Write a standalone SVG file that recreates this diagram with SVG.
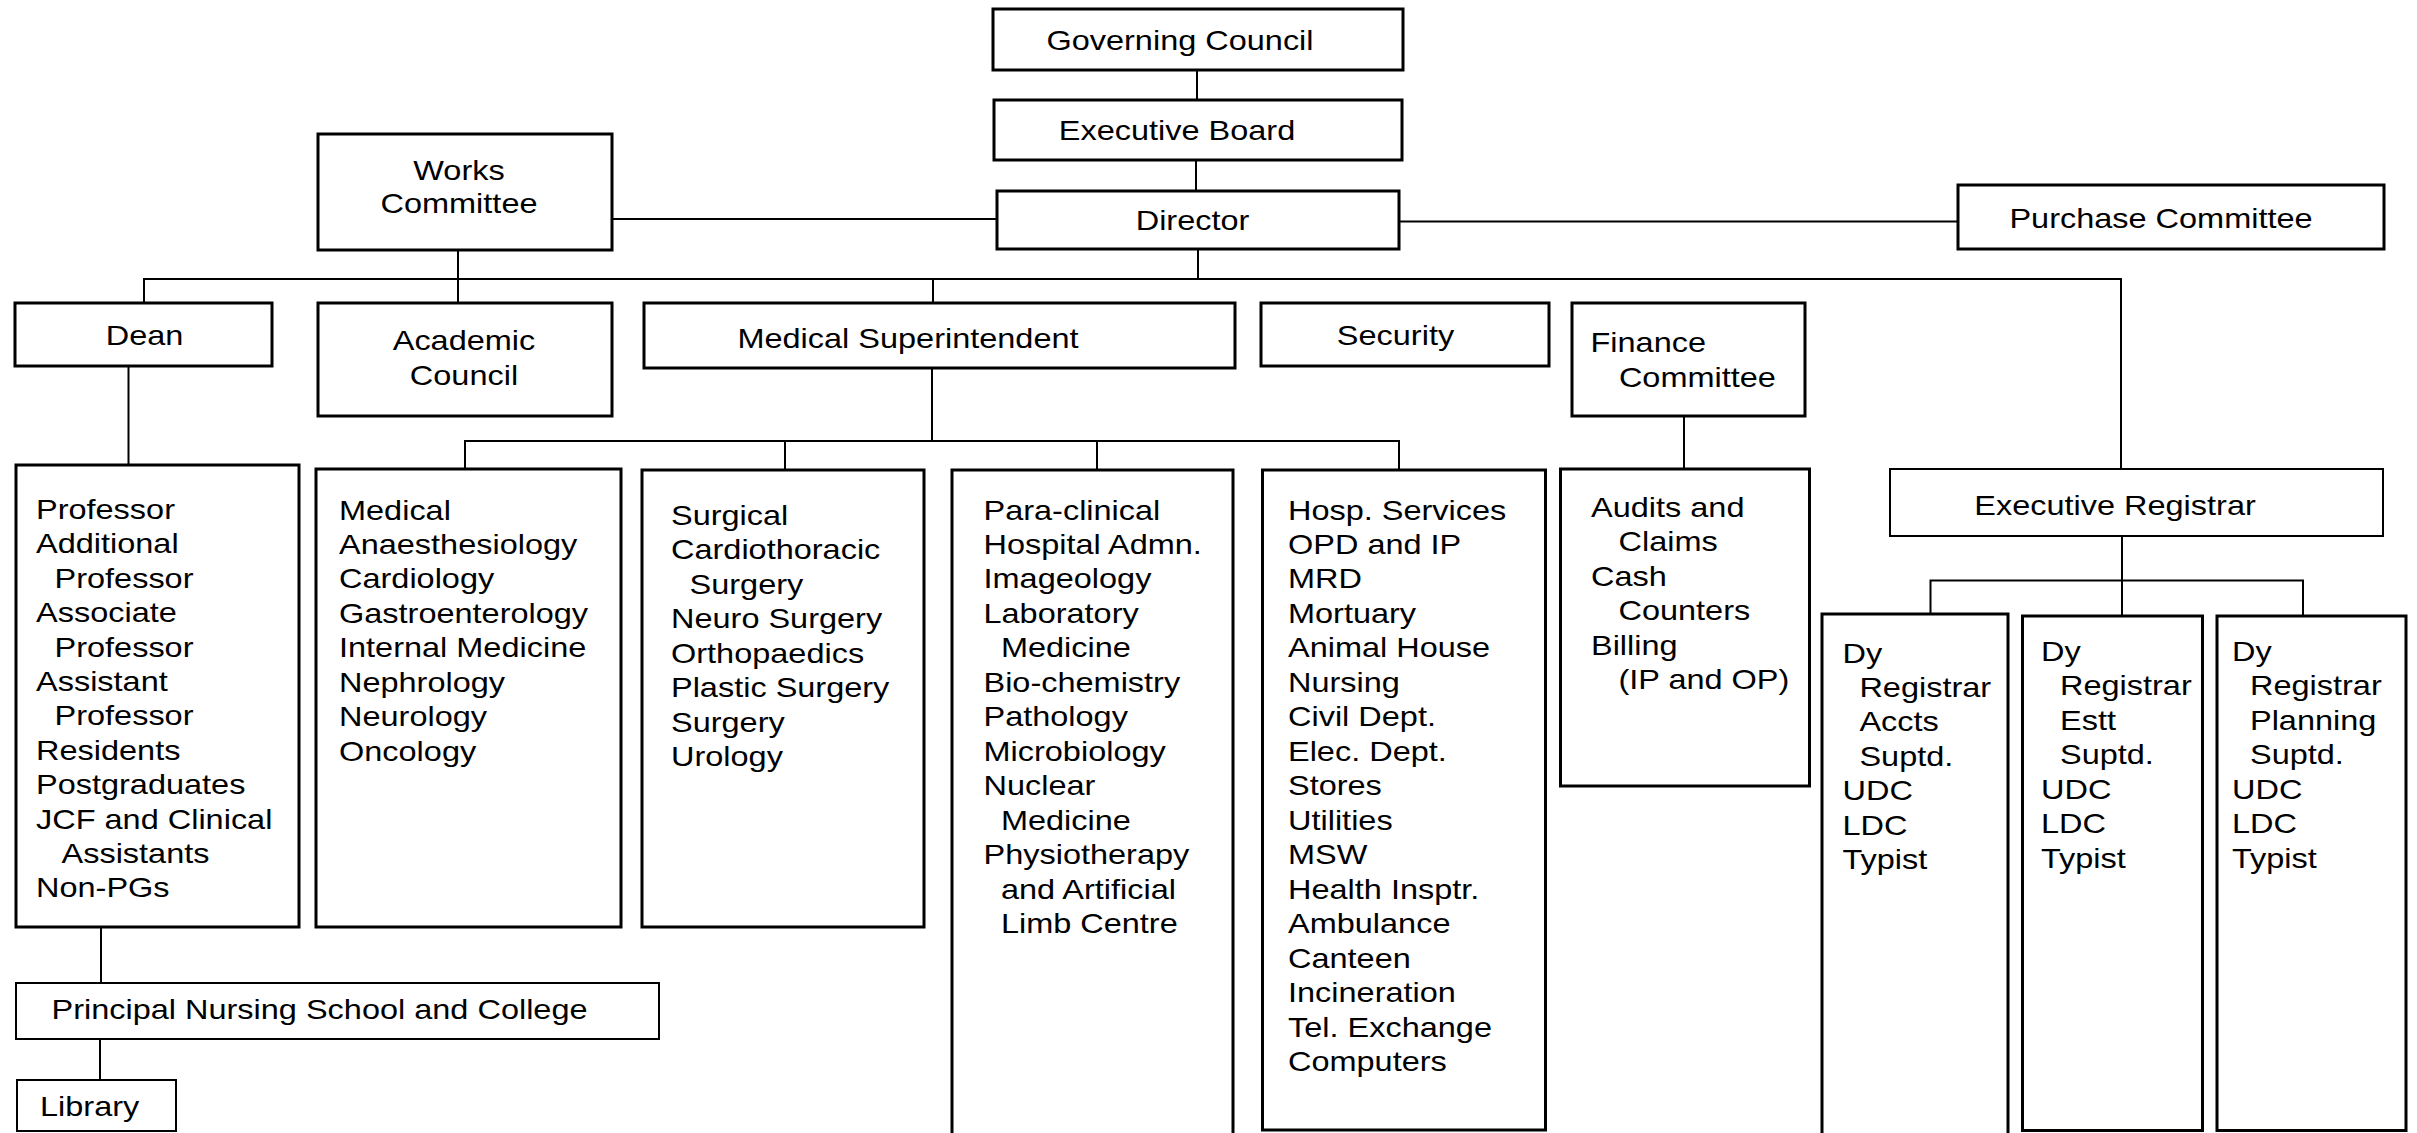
<svg xmlns="http://www.w3.org/2000/svg" width="2417" height="1133" viewBox="0 0 2417 1133">
  <style>
    .box { fill: #ffffff; stroke: #000000; stroke-width: 3; }
    .thin { stroke-width: 2; }
    .wire { fill: none; stroke: #000000; stroke-width: 2; }
    .t { font-family: "Liberation Sans", Arial, Helvetica, sans-serif; font-size: 28px; fill: #000000; }
    .c { text-anchor: middle; }
  </style>
  <rect x="0" y="0" width="2417" height="1133" fill="#ffffff"/>

  <!-- connectors -->
  <g id="connectors" class="wire">
    <line x1="1197" y1="70" x2="1197" y2="100"/>
    <line x1="1196" y1="160" x2="1196" y2="191"/>
    <line x1="612" y1="219" x2="997" y2="219"/>
    <line x1="1399" y1="221.5" x2="1958" y2="221.5"/>
    <line x1="1198" y1="249" x2="1198" y2="279"/>
    <polyline points="144,303 144,279 2121,279 2121,469"/>
    <line x1="458" y1="250" x2="458" y2="303"/>
    <line x1="933" y1="279" x2="933" y2="303"/>
    <line x1="128.5" y1="366" x2="128.5" y2="465"/>
    <line x1="932" y1="368" x2="932" y2="441"/>
    <polyline points="465,469 465,441 1399,441 1399,470"/>
    <line x1="785" y1="441" x2="785" y2="470"/>
    <line x1="1097" y1="441" x2="1097" y2="470"/>
    <line x1="1684" y1="416" x2="1684" y2="469"/>
    <line x1="101" y1="927" x2="101" y2="983"/>
    <line x1="100" y1="1039" x2="100" y2="1080"/>
    <line x1="2122" y1="536" x2="2122" y2="616"/>
    <polyline points="1930.5,614 1930.5,580.5 2303,580.5 2303,616"/>
  </g>

  <g id="governing-council">
    <rect class="box" x="993" y="9" width="410" height="61"/>
    <text class="t c" transform="translate(1180 49.5) scale(1.16 1)">Governing Council</text>
  </g>
  <g id="executive-board">
    <rect class="box" x="994" y="100" width="408" height="60"/>
    <text class="t c" transform="translate(1177 139.5) scale(1.16 1)">Executive Board</text>
  </g>
  <g id="director">
    <rect class="box" x="997" y="191" width="402" height="58"/>
    <text class="t c" transform="translate(1192.5 230) scale(1.16 1)">Director</text>
  </g>
  <g id="works-committee">
    <rect class="box" x="318" y="134" width="294" height="116"/>
    <text class="t c" transform="translate(459 180) scale(1.16 1)"><tspan x="0" y="0">Works</tspan><tspan x="0" y="33.5">Committee</tspan></text>
  </g>
  <g id="purchase-committee">
    <rect class="box" x="1958" y="185" width="426" height="64"/>
    <text class="t c" transform="translate(2161 228) scale(1.16 1)">Purchase Committee</text>
  </g>
  <g id="dean">
    <rect class="box" x="15" y="303" width="257" height="63"/>
    <text class="t c" transform="translate(144.5 345) scale(1.16 1)">Dean</text>
  </g>
  <g id="academic-council">
    <rect class="box" x="318" y="303" width="294" height="113"/>
    <text class="t c" transform="translate(464 350) scale(1.16 1)"><tspan x="0" y="0">Academic</tspan><tspan x="0" y="35">Council</tspan></text>
  </g>
  <g id="medical-superintendent">
    <rect class="box" x="644" y="303" width="591" height="65"/>
    <text class="t c" transform="translate(908 348) scale(1.16 1)">Medical Superintendent</text>
  </g>
  <g id="security">
    <rect class="box" x="1261" y="303" width="288" height="63"/>
    <text class="t c" transform="translate(1395.5 345) scale(1.16 1)">Security</text>
  </g>
  <g id="finance-committee">
    <rect class="box" x="1572" y="303" width="233" height="113"/>
    <text class="t" transform="translate(1590.5 352) scale(1.16 1)"><tspan x="0" y="0">Finance</tspan><tspan x="24.5" y="35">Committee</tspan></text>
  </g>

  <g id="faculty">
    <rect class="box" x="16" y="465" width="283" height="462"/>
    <text class="t" transform="translate(36 519) scale(1.16 1)">
      <tspan x="0" y="0">Professor</tspan>
      <tspan x="0" dy="34.4">Additional</tspan>
      <tspan x="16" dy="34.4">Professor</tspan>
      <tspan x="0" dy="34.4">Associate</tspan>
      <tspan x="16" dy="34.4">Professor</tspan>
      <tspan x="0" dy="34.4">Assistant</tspan>
      <tspan x="16" dy="34.4">Professor</tspan>
      <tspan x="0" dy="34.4">Residents</tspan>
      <tspan x="0" dy="34.4">Postgraduates</tspan>
      <tspan x="0" dy="34.4">JCF and Clinical</tspan>
      <tspan x="22" dy="34.4">Assistants</tspan>
      <tspan x="0" dy="34.4">Non-PGs</tspan>
    </text>
  </g>
  <g id="medical">
    <rect class="box" x="316" y="469" width="305" height="458"/>
    <text class="t" transform="translate(339 519.5) scale(1.16 1)">
      <tspan x="0" y="0">Medical</tspan>
      <tspan x="0" dy="34.5">Anaesthesiology</tspan>
      <tspan x="0" dy="34.5">Cardiology</tspan>
      <tspan x="0" dy="34.5">Gastroenterology</tspan>
      <tspan x="0" dy="34.5">Internal Medicine</tspan>
      <tspan x="0" dy="34.5">Nephrology</tspan>
      <tspan x="0" dy="34.5">Neurology</tspan>
      <tspan x="0" dy="34.5">Oncology</tspan>
    </text>
  </g>
  <g id="surgical">
    <rect class="box" x="642" y="470" width="282" height="457"/>
    <text class="t" transform="translate(671 525) scale(1.16 1)">
      <tspan x="0" y="0">Surgical</tspan>
      <tspan x="0" dy="34.5">Cardiothoracic</tspan>
      <tspan x="16" dy="34.5">Surgery</tspan>
      <tspan x="0" dy="34.5">Neuro Surgery</tspan>
      <tspan x="0" dy="34.5">Orthopaedics</tspan>
      <tspan x="0" dy="34.5">Plastic Surgery</tspan>
      <tspan x="0" dy="34.5">Surgery</tspan>
      <tspan x="0" dy="34.5">Urology</tspan>
    </text>
  </g>
  <g id="para-clinical">
    <rect class="box" x="952" y="470" width="281" height="680"/>
    <text class="t" transform="translate(983.5 519.5) scale(1.16 1)">
      <tspan x="0" y="0">Para-clinical</tspan>
      <tspan x="0" dy="34.5">Hospital Admn.</tspan>
      <tspan x="0" dy="34.5">Imageology</tspan>
      <tspan x="0" dy="34.5">Laboratory</tspan>
      <tspan x="15" dy="34.5">Medicine</tspan>
      <tspan x="0" dy="34.5">Bio-chemistry</tspan>
      <tspan x="0" dy="34.5">Pathology</tspan>
      <tspan x="0" dy="34.5">Microbiology</tspan>
      <tspan x="0" dy="34.5">Nuclear</tspan>
      <tspan x="15" dy="34.5">Medicine</tspan>
      <tspan x="0" dy="34.5">Physiotherapy</tspan>
      <tspan x="15" dy="34.5">and Artificial</tspan>
      <tspan x="15" dy="34.5">Limb Centre</tspan>
    </text>
  </g>
  <g id="hospital-services">
    <rect class="box" x="1262.5" y="470" width="283" height="660"/>
    <text class="t" transform="translate(1288 519.5) scale(1.16 1)">
      <tspan x="0" y="0">Hosp. Services</tspan>
      <tspan x="0" dy="34.5">OPD and IP</tspan>
      <tspan x="0" dy="34.5">MRD</tspan>
      <tspan x="0" dy="34.5">Mortuary</tspan>
      <tspan x="0" dy="34.5">Animal House</tspan>
      <tspan x="0" dy="34.5">Nursing</tspan>
      <tspan x="0" dy="34.5">Civil Dept.</tspan>
      <tspan x="0" dy="34.5">Elec. Dept.</tspan>
      <tspan x="0" dy="34.5">Stores</tspan>
      <tspan x="0" dy="34.5">Utilities</tspan>
      <tspan x="0" dy="34.5">MSW</tspan>
      <tspan x="0" dy="34.5">Health Insptr.</tspan>
      <tspan x="0" dy="34.5">Ambulance</tspan>
      <tspan x="0" dy="34.5">Canteen</tspan>
      <tspan x="0" dy="34.5">Incineration</tspan>
      <tspan x="0" dy="34.5">Tel. Exchange</tspan>
      <tspan x="0" dy="34.5">Computers</tspan>
    </text>
  </g>
  <g id="audits">
    <rect class="box" x="1560.5" y="469" width="249" height="317"/>
    <text class="t" transform="translate(1591 517) scale(1.16 1)">
      <tspan x="0" y="0">Audits and</tspan>
      <tspan x="23.7" dy="34.5">Claims</tspan>
      <tspan x="0" dy="34.5">Cash</tspan>
      <tspan x="23.7" dy="34.5">Counters</tspan>
      <tspan x="0" dy="34.5">Billing</tspan>
      <tspan x="23.7" dy="34.5">(IP and OP)</tspan>
    </text>
  </g>
  <g id="executive-registrar">
    <rect class="box thin" x="1890" y="469" width="493" height="67"/>
    <text class="t c" transform="translate(2115 515) scale(1.16 1)">Executive Registrar</text>
  </g>
  <g id="registrar-accounts">
    <rect class="box" x="1822" y="614" width="186" height="540"/>
    <text class="t" transform="translate(1842.5 662.5) scale(1.16 1)">
      <tspan x="0" y="0">Dy</tspan>
      <tspan x="14.6" dy="34.5">Registrar</tspan>
      <tspan x="14.6" dy="34.5">Accts</tspan>
      <tspan x="14.6" dy="34.5">Suptd.</tspan>
      <tspan x="0" dy="34.5">UDC</tspan>
      <tspan x="0" dy="34.5">LDC</tspan>
      <tspan x="0" dy="34.5">Typist</tspan>
    </text>
  </g>
  <g id="registrar-establishment">
    <rect class="box" x="2022.5" y="616" width="180" height="514.5"/>
    <text class="t" transform="translate(2041 661) scale(1.16 1)">
      <tspan x="0" y="0">Dy</tspan>
      <tspan x="16.4" dy="34.5">Registrar</tspan>
      <tspan x="16.4" dy="34.5">Estt</tspan>
      <tspan x="16.4" dy="34.5">Suptd.</tspan>
      <tspan x="0" dy="34.5">UDC</tspan>
      <tspan x="0" dy="34.5">LDC</tspan>
      <tspan x="0" dy="34.5">Typist</tspan>
    </text>
  </g>
  <g id="registrar-planning">
    <rect class="box" x="2217" y="616" width="189" height="514.5"/>
    <text class="t" transform="translate(2232 661) scale(1.16 1)">
      <tspan x="0" y="0">Dy</tspan>
      <tspan x="15.5" dy="34.5">Registrar</tspan>
      <tspan x="15.5" dy="34.5">Planning</tspan>
      <tspan x="15.5" dy="34.5">Suptd.</tspan>
      <tspan x="0" dy="34.5">UDC</tspan>
      <tspan x="0" dy="34.5">LDC</tspan>
      <tspan x="0" dy="34.5">Typist</tspan>
    </text>
  </g>
  <g id="nursing-school">
    <rect class="box thin" x="16" y="983" width="643" height="56"/>
    <text class="t" transform="translate(51.5 1019) scale(1.16 1)">Principal Nursing School and College</text>
  </g>
  <g id="library">
    <rect class="box thin" x="17" y="1080" width="159" height="51"/>
    <text class="t" transform="translate(40 1116) scale(1.16 1)">Library</text>
  </g>
</svg>
